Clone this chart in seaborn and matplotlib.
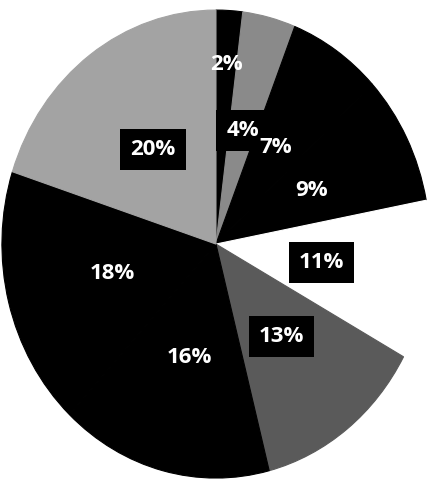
import matplotlib
matplotlib.use("Agg")
import matplotlib.pyplot as plt
import seaborn as sns
import numpy as np

# Data (clockwise from top)
values = [2, 4, 7, 9, 11, 13, 16, 18, 20]
labels = [f"{v}%" for v in values]
slice_colors = ["#000000", "#8a8a8a", "#000000", "#000000", "#ffffff",
                "#5a5a5a", "#000000", "#000000", "#a3a3a3"]

sns.set_theme(style="white")
plt.rcParams['font.family'] = ['Open Sans', 'DejaVu Sans']

fig = plt.figure(figsize=(4.33, 4.79), dpi=100)
ax = fig.add_axes([0, 0, 1, 1])
wedges, _ = ax.pie(values, colors=slice_colors, startangle=90,
                   counterclock=False, radius=1,
                   wedgeprops=dict(linewidth=0.8))
for w in wedges:
    w.set_edgecolor(w.get_facecolor())
ax.set_aspect('auto')
ax.set_xlim(-1.009, 1.014)
ax.set_ylim(-1.004, 1.043)
ax.axis('off')

smallest = min(values)
for w, lab, v, c in zip(wedges, labels, values, slice_colors):
    mid = np.deg2rad((w.theta1 + w.theta2) / 2)
    r = 0.77 if v == smallest else 0.5
    boxed = c != "#000000"
    ax.text(r * np.cos(mid), r * np.sin(mid), lab, ha='center', va='center',
            color='white', fontsize=16, fontweight='bold',
            bbox=dict(boxstyle='square,pad=0.45', fc='black', ec='none') if boxed else None)

fig.savefig("out.png", dpi=100, facecolor='white')
